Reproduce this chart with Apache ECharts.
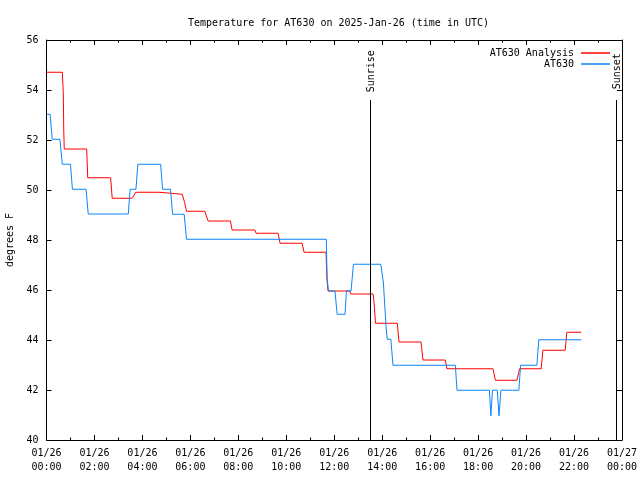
<!DOCTYPE html>
<html>
<head>
<meta charset="utf-8">
<script src="https://cdn.jsdelivr.net/npm/echarts@6/dist/echarts.min.js"></script>
<style>html,body{margin:0;padding:0;background:#fff}#c{width:640px;height:480px}</style>
</head>
<body>
<div id="c"></div>
<script>
// Hours since 2025-01-26 00:00 UTC
const analysisHours = [0.00,0.66,0.70,0.72,0.74,1.675,1.72,2.675,2.74,3.57,3.72,4.69,4.74,5.66,5.76,5.84,6.60,6.74,7.67,7.74,8.69,8.74,9.66,9.74,10.66,10.74,11.66,11.67,11.70,11.74,12.65,12.69,13.62,13.66,13.72,14.63,14.70,15.62,15.70,16.63,16.70,18.62,18.72,19.62,19.73,20.63,20.70,21.63,21.70,22.30];
const analysisTemps = [54.71,54.71,53.9,52.4,51.64,51.64,50.49,50.49,49.67,49.67,49.91,49.91,49.83,49.83,49.5,49.15,49.15,48.76,48.76,48.4,48.4,48.27,48.27,47.87,47.87,47.51,47.51,47.13,46.4,45.96,45.96,45.84,45.84,45.5,44.67,44.67,43.92,43.92,43.2,43.2,42.85,42.85,42.39,42.39,42.85,42.85,43.59,43.59,44.31,44.31];
const obsHours = [0.00,0.15,0.24,0.56,0.66,1.00,1.08,1.65,1.74,3.41,3.49,3.73,3.81,4.76,4.84,5.17,5.26,5.74,5.84,11.67,11.70,11.76,12.03,12.12,12.45,12.51,12.70,12.80,13.94,14.05,14.16,14.21,14.36,14.45,17.05,17.12,18.47,18.53,18.60,18.80,18.87,18.95,19.70,19.77,20.45,20.53,22.30];
const obsTemps = [53.03,53.03,52.03,52.03,51.03,51.03,50.03,50.03,49.04,49.04,50.03,50.03,51.03,51.03,50.03,50.03,49.03,49.03,48.03,48.03,46.5,45.96,45.96,45.03,45.03,45.96,45.96,47.03,47.03,46.28,44.53,44.03,44.03,42.99,42.99,41.99,41.99,40.97,41.99,41.99,40.97,41.99,41.99,42.99,42.99,44.01,44.01];
const xTickLabels = ['01/26\n00:00','01/26\n02:00','01/26\n04:00','01/26\n06:00','01/26\n08:00','01/26\n10:00','01/26\n12:00','01/26\n14:00','01/26\n16:00','01/26\n18:00','01/26\n20:00','01/26\n22:00','01/27\n00:00'];
const sunriseHour = 13.49;
const sunsetHour = 23.78;
const seriesNames = ['AT630 Analysis','AT630'];

const FONT = 'DejaVu Sans Mono';
const pair = (xs, ys) => xs.map((x, i) => [x, ys[i]]);
const sunMark = (h, name) => [
  [{coord:[h,40]},{coord:[h,53.6]}],
  [{coord:[h,53.6], lineStyle:{color:'rgba(0,0,0,0)'},
    label:{show:true, formatter:name, position:'middle', distance:-6, color:'#000', fontFamily:FONT, fontSize:10, opacity:1}},
   {coord:[h,55.9]}]
];

const chart = echarts.init(document.getElementById('c'), null, {renderer:'canvas'});
const axisCommon = {
  type:'value', splitLine:{show:false},
  axisLine:{show:true, onZero:false, lineStyle:{color:'#000', width:1}},
  axisTick:{show:true, inside:true, length:5, lineStyle:{color:'#000'}}
};
chart.setOption({
  animation:false,
  backgroundColor:'#fff',
  title:{text:'Temperature for AT630 on 2025-Jan-26 (time in UTC)', left:183, top:13,
    textStyle:{fontFamily:FONT, fontSize:10, fontWeight:'normal', color:'#000'}},
  legend:{orient:'vertical', right:25, top:43, align:'right', itemGap:1, itemWidth:29, itemHeight:1.5, icon:'rect',
    textStyle:{fontFamily:FONT, fontSize:10, color:'#000', padding:[0,2,0,0]}, data:seriesNames},
  grid:{left:46.5, right:18, top:40, bottom:40, containLabel:false, outerBoundsMode:'none'},
  xAxis:[
    Object.assign({}, axisCommon, {min:0, max:24, interval:2, position:'bottom',
      minorTick:{show:true, splitNumber:2, length:2.5, lineStyle:{color:'#000'}},
      axisLabel:{fontFamily:FONT, fontSize:10, color:'#000', lineHeight:14, margin:6,
        formatter:v => xTickLabels[Math.round(v/2)]}}),
    Object.assign({}, axisCommon, {min:0, max:24, interval:2, position:'top',
      minorTick:{show:true, splitNumber:2, length:2.5, lineStyle:{color:'#000'}},
      axisLabel:{show:false}})
  ],
  yAxis:[
    Object.assign({}, axisCommon, {min:40, max:56, interval:2, position:'left',
      name:'degrees F', nameLocation:'middle', nameGap:31, nameRotate:90,
      nameTextStyle:{fontFamily:FONT, fontSize:10, color:'#000'},
      axisLabel:{fontFamily:FONT, fontSize:10, color:'#000', margin:8}}),
    Object.assign({}, axisCommon, {min:40, max:56, interval:2, position:'right', axisLabel:{show:false}})
  ],
  series:[
    {name:seriesNames[0], type:'line', data:pair(analysisHours, analysisTemps), symbol:'none',
      color:'#ff0000', lineStyle:{width:1, color:'#ff0000'}, z:3,
      markLine:{silent:true, symbol:['none','none'], lineStyle:{color:'#000', width:1, type:'solid'},
        label:{show:false}, data:[...sunMark(sunriseHour,'Sunrise'), ...sunMark(sunsetHour,'Sunset')]}},
    {name:seriesNames[1], type:'line', data:pair(obsHours, obsTemps), symbol:'none',
      color:'#0a84ff', lineStyle:{width:1, color:'#0a84ff'}, z:4}
  ]
});
</script>
</body>
</html>
